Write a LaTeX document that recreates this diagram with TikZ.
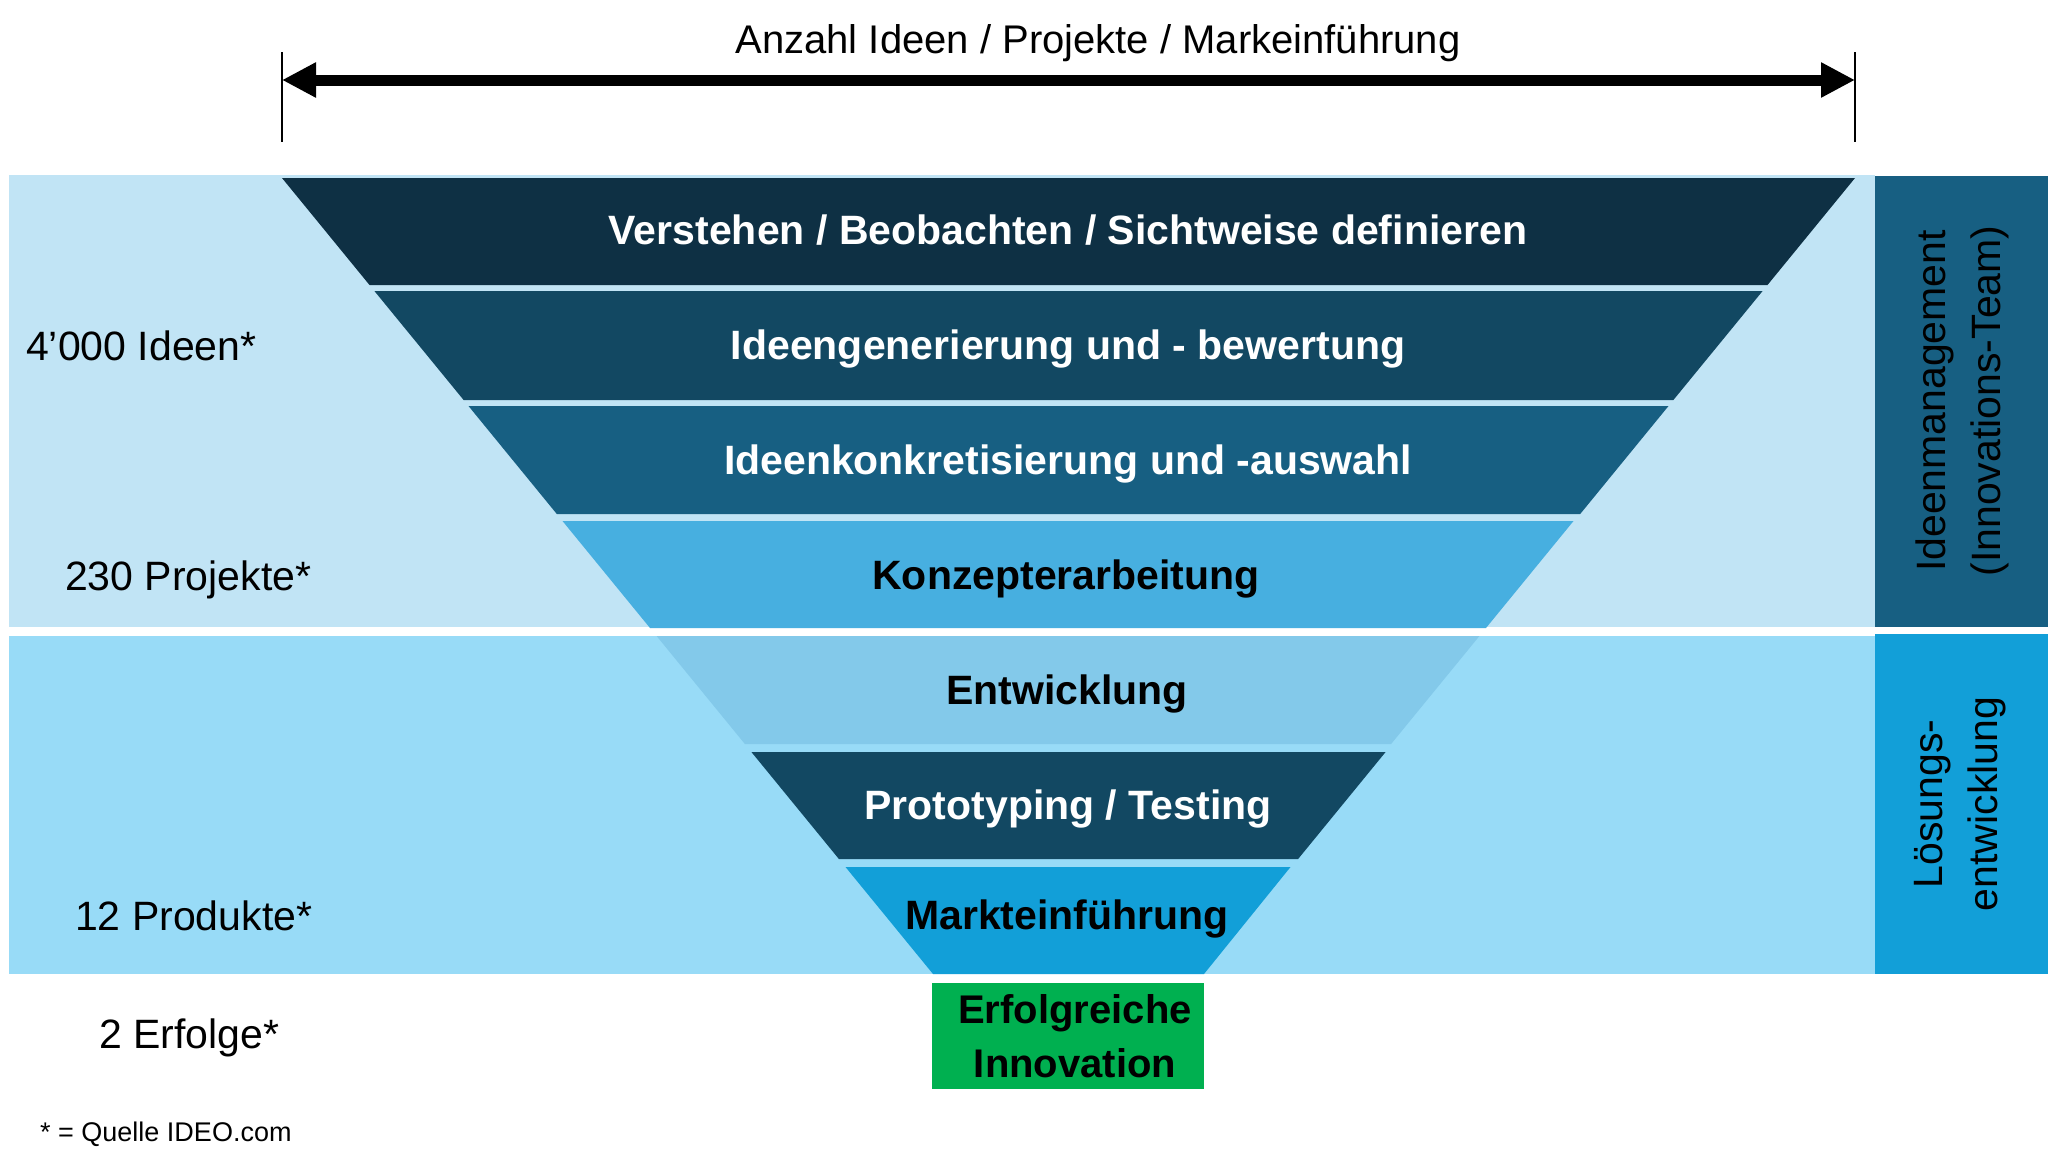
\documentclass[tikz,border=0pt]{standalone}
\usepackage{fontspec}
\setmainfont{Liberation Sans}
\usetikzlibrary{arrows.meta}
\definecolor{bandA}{HTML}{C1E4F5}
\definecolor{bandB}{HTML}{98DBF7}
\definecolor{layA}{HTML}{0E3044}
\definecolor{layB}{HTML}{124862}
\definecolor{layC}{HTML}{175F82}
\definecolor{layD}{HTML}{47AFE0}
\definecolor{layE}{HTML}{83C9EA}
\definecolor{layF}{HTML}{124862}
\definecolor{layG}{HTML}{129FD8}
\definecolor{panA}{HTML}{175F82}
\definecolor{panB}{HTML}{129FD8}
\definecolor{okgreen}{HTML}{00B050}
\tikzset{
  laylabel/.style={anchor=base, inner sep=0pt, font=\fontsize{41}{49}\selectfont\bfseries},
  sidelabel/.style={anchor=base west, inner sep=0pt, font=\fontsize{41}{49}\selectfont},
  panlabel/.style={rotate=90, align=center, inner sep=0pt, font=\fontsize{41}{55}\selectfont},
}
\begin{document}
\begin{tikzpicture}[x=1pt,y=-1pt]
\useasboundingbox (0,0) rectangle (2048,1167);
\fill[white] (0,0) rectangle (2048,1167);
% bands
\fill[bandA] (9,175) rectangle (1875,627);
\fill[bandB] (9,636) rectangle (1875,974);
% right panels
\fill[panA] (1875,176) rectangle (2048,627);
\fill[panB] (1875,634) rectangle (2048,974);
% funnel layers
\fill[layA] (282,178) -- (1855,178) -- (1767.5,285) -- (369.5,285) -- cycle;
\fill[layB] (374.4,291) -- (1762.6,291) -- (1673.4,400) -- (463.6,400) -- cycle;
\fill[layC] (468.5,406) -- (1668.5,406) -- (1580.2,514) -- (556.8,514) -- cycle;
\fill[layD] (562.5,521) -- (1573.5,521) -- (1486.0,628) -- (650.0,628) -- cycle;
\fill[layE] (656.6,636) -- (1479.4,636) -- (1391.1,744) -- (744.9,744) -- cycle;
\fill[layF] (751.4,752) -- (1385.6,752) -- (1298.1,859) -- (838.9,859) -- cycle;
\fill[layG] (845.5,867) -- (1290.5,867) -- (1204,974) -- (933,974) -- cycle;
% green box
\node[fill=okgreen, minimum width=272pt, minimum height=106pt, inner sep=0pt, anchor=north west] (green) at (932,983) {};
\node[anchor=base, inner sep=0pt, font=\fontsize{40}{49}\selectfont\bfseries] (g1) at (1075,1023) {Erfolgreiche};
\node[anchor=base, inner sep=0pt, font=\fontsize{40}{49}\selectfont\bfseries] (g2) at (1075,1077) {Innovation};
% layer labels
\node[laylabel, text=white] (l1) at (1068,244) {Verstehen / Beobachten / Sichtweise definieren};
\node[laylabel, text=white] (l2) at (1068,359.5) {Ideengenerierung und - bewertung};
\node[laylabel, text=white] (l3) at (1068,474) {Ideenkonkretisierung und -auswahl};
\node[laylabel, text=black] (l4) at (1066,589) {Konzepterarbeitung};
\node[laylabel, text=black] (l5) at (1067,704) {Entwicklung};
\node[laylabel, text=white] (l6) at (1068,819.5) {Prototyping / Testing};
\node[laylabel, text=black] (l7) at (1067,929) {Markteinführung};
% side labels
\node[sidelabel] (s1) at (26,360) {4’000 Ideen*};
\node[sidelabel] (s2) at (65,590) {230 Projekte*};
\node[sidelabel] (s3) at (75,930) {12 Produkte*};
\node[sidelabel] (s4) at (99,1048) {2 Erfolge*};
\node[anchor=base west, inner sep=0pt, font=\fontsize{27}{32}\selectfont] (src) at (40,1141) {* = Quelle IDEO.com};
% panel labels
\node[panlabel] (p1) at (1962,401) {Ideenmanagement\\(Innovations-Team)};
\node[panlabel] (p2) at (1960,804) {Lösungs-\\entwicklung};
% top arrow
\coordinate (aL) at (282,80);
\coordinate (aR) at (1855,80);
\coordinate (tL1) at (282,52);
\coordinate (tL2) at (282,142);
\coordinate (tR1) at (1855,52);
\coordinate (tR2) at (1855,142);
\draw[line width=2.5pt] (tL1) -- (tL2);
\draw[line width=2.5pt] (tR1) -- (tR2);
\draw[line width=11pt, {Triangle[length=34pt,width=33pt]}-{Triangle[length=34pt,width=33pt]}] (aL) -- (aR);
\node[anchor=base, inner sep=0pt, font=\fontsize{40}{48}\selectfont] (title) at (1098,53) {Anzahl Ideen / Projekte / Markeinführung};
\end{tikzpicture}
\end{document}
